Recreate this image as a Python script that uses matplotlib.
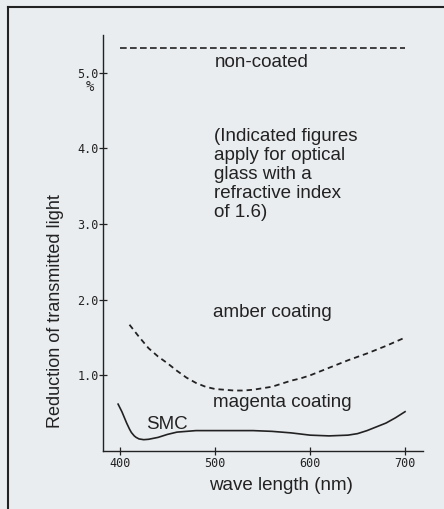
import matplotlib.pyplot as plt
from matplotlib.lines import Line2D

# Reduction of transmitted light (%) against wavelength (nm)
non_coated_nm = [400, 700]
non_coated = [5.33, 5.33]

amber_nm = [410, 420, 430, 440, 450, 460, 470, 480, 490, 500, 510, 520, 530,
            540, 550, 560, 570, 580, 590, 600, 620, 640, 660, 680, 700]
amber = [1.67, 1.51, 1.36, 1.25, 1.16, 1.06, 0.97, 0.90, 0.85, 0.82, 0.81,
         0.80, 0.80, 0.81, 0.83, 0.85, 0.89, 0.93, 0.96, 1.00, 1.10, 1.20,
         1.29, 1.39, 1.50]

smc_nm = [398, 400, 402, 405, 407, 410, 412, 415, 417, 420, 425, 430, 440,
          450, 460, 470, 480, 500, 520, 540, 560, 580, 600, 620, 640, 650,
          660, 670, 680, 690, 700]
smc = [0.62, 0.57, 0.52, 0.43, 0.37, 0.29, 0.245, 0.20, 0.18, 0.16, 0.15,
       0.155, 0.18, 0.22, 0.25, 0.26, 0.27, 0.27, 0.27, 0.27, 0.26, 0.24,
       0.21, 0.20, 0.21, 0.23, 0.27, 0.32, 0.37, 0.44, 0.52]

x_ticks = [400, 500, 600, 700]
y_ticks = [1.0, 2.0, 3.0, 4.0, 5.0]

note_lines = ["(Indicated figures", "apply for optical", "glass with a",
              "refractive index", "of 1.6)"]

bg = '#eaedf0'
ink = '#222222'
sans = ['Liberation Sans', 'DejaVu Sans']
mono = ['DejaVu Sans Mono']

fig = plt.figure(figsize=(4.44, 5.09), dpi=100, facecolor=bg)
ax = fig.add_axes([0.2313, 0.1139, 0.9527 - 0.2313, 0.9312 - 0.1139])
ax.set_facecolor(bg)

ax.plot(non_coated_nm, non_coated, color=ink, lw=1.2, dashes=(4, 2))
ax.plot(amber_nm, amber, color=ink, lw=1.3, dashes=(3, 2.2))
ax.plot(smc_nm, smc, color=ink, lw=1.2)

ax.set_xlim(381.8, 718.9)
ax.set_ylim(0, 5.5)

for side in ['top', 'right']:
    ax.spines[side].set_visible(False)
for side in ['left', 'bottom']:
    ax.spines[side].set_color(ink)
    ax.spines[side].set_linewidth(1.0)

ax.set_xticks(x_ticks)
ax.set_xticklabels([str(t) for t in x_ticks], family=mono, fontsize=8.5)
ax.set_yticks(y_ticks)
ax.set_yticklabels([f'{t:.1f}' for t in y_ticks], family=mono, fontsize=8.5)
ax.tick_params(axis='x', direction='inout', length=6, width=0.9,
               color=ink, labelcolor=ink, pad=1)
ax.tick_params(axis='y', direction='inout', length=6, width=0.9,
               color=ink, labelcolor=ink, pad=0)

# unit under the top tick
ax.text(-0.04, 4.81, '%', transform=ax.get_yaxis_transform(), family=mono,
        fontsize=10, color=ink, ha='center', va='center')

# curve labels
label_kw = dict(family=sans, fontsize=13.5, color=ink, va='baseline', ha='left')
ax.text(500, 5.08, 'non-coated', **label_kw)
ax.text(498, 1.77, 'amber coating', **label_kw)
ax.text(498, 0.58, 'magenta coating', **label_kw)
ax.text(427, 0.29, 'SMC', **label_kw)

for i, line in enumerate(note_lines):
    ax.text(499, 4.10 - i * 0.251, line, **label_kw)

fig.text(55 / 444, 1 - 311 / 509, 'Reduction of transmitted light',
         rotation=90, family=sans, fontsize=13, color=ink,
         ha='center', va='center')
fig.text(281 / 444, 1 - 490 / 509, 'wave length (nm)', family=sans,
         fontsize=13.5, color=ink, ha='center', va='baseline')

# page frame
fig.add_artist(Line2D([8.3 / 444, 8.3 / 444], [1 - 7 / 509, -0.05],
                      transform=fig.transFigure, color=ink, lw=1.5))
fig.add_artist(Line2D([8.3 / 444, 1.05], [1 - 7 / 509, 1 - 7 / 509],
                      transform=fig.transFigure, color=ink, lw=1.5))

fig.savefig('out.png', dpi=100, facecolor=bg)
